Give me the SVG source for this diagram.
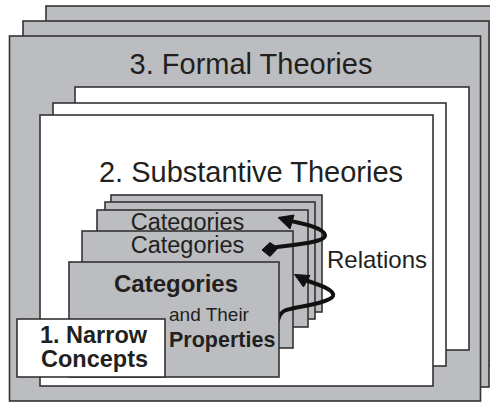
<svg xmlns="http://www.w3.org/2000/svg" width="490" height="403" viewBox="0 0 490 403">
<style>
.g{fill:#bcbdc0;stroke:#333;stroke-width:1.6}
.w{fill:#fff;stroke:#333;stroke-width:1.6}
.t{font-family:"Liberation Sans",Arial,sans-serif;fill:#231f20}
.b{font-weight:bold}
.c{fill:none;stroke:#111;stroke-width:4;stroke-linecap:round}
.h{fill:#111;stroke:#111;stroke-width:1;stroke-linejoin:round}
</style>
<rect width="490" height="403" fill="#fff"/>
<g id="formal-theories">
<rect class="g" x="46" y="6" width="470" height="360"/>
<rect class="g" x="23" y="21" width="466" height="366"/>
<rect class="g" x="9.5" y="36" width="471" height="365"/>
<text class="t" x="251" y="74" font-size="29" text-anchor="middle">3. Formal Theories</text>
</g>
<g id="substantive-theories">
<rect class="w" x="75" y="87" width="394" height="263"/>
<rect class="w" x="53" y="103" width="393" height="263"/>
<rect class="w" x="40" y="115" width="393" height="271"/>
<text class="t" x="251" y="182" font-size="29" text-anchor="middle">2. Substantive Theories</text>
</g>
<g id="category-1"><rect class="g" x="111" y="195" width="211" height="117"/></g>
<g id="category-2"><rect class="g" x="105" y="202" width="210" height="117"/></g>
<g id="category-3"><rect class="g" x="97" y="210" width="211" height="117"/>
<text class="t" x="187.5" y="229.5" font-size="23.5" text-anchor="middle">Categories</text></g>
<g id="category-4"><rect class="g" x="82" y="231" width="211" height="117"/>
<text class="t" x="187.5" y="253" font-size="23.5" text-anchor="middle">Categories</text></g>
<g id="connectors">
<path class="c" d="M270 248 C300 244 326 242 325 235 C324 228 305 224 291 221"/>
<polygon class="h" points="278,217.5 294,215 290,229"/>
<polygon class="h" points="262,250 270,242.5 278,248 270,256.5"/>
<path class="c" d="M305 280 C320 285 335 290 333 296 C330 303 300 306 286 310 C281 312 279 316 278 320"/>
<polygon class="h" points="294.5,274.5 310,275.5 303.5,287"/>
</g>
<g id="relations-label">
<text class="t" x="327" y="268" font-size="24">Relations</text>
</g>
<g id="categories-properties"><rect class="g" x="69" y="262" width="210" height="115"/>
<text class="t b" x="176" y="292" font-size="24" text-anchor="middle">Categories</text>
<text class="t" x="169" y="321" font-size="19">and Their</text>
<text class="t b" x="169" y="347" font-size="21.5">Properties</text></g>
<g id="narrow-concepts"><rect class="w" x="17" y="319" width="148" height="58"/>
<text class="t b" x="93.5" y="343" font-size="23.5" text-anchor="middle">1. Narrow</text>
<text class="t b" x="94.5" y="367" font-size="23.5" text-anchor="middle">Concepts</text></g>
</svg>
